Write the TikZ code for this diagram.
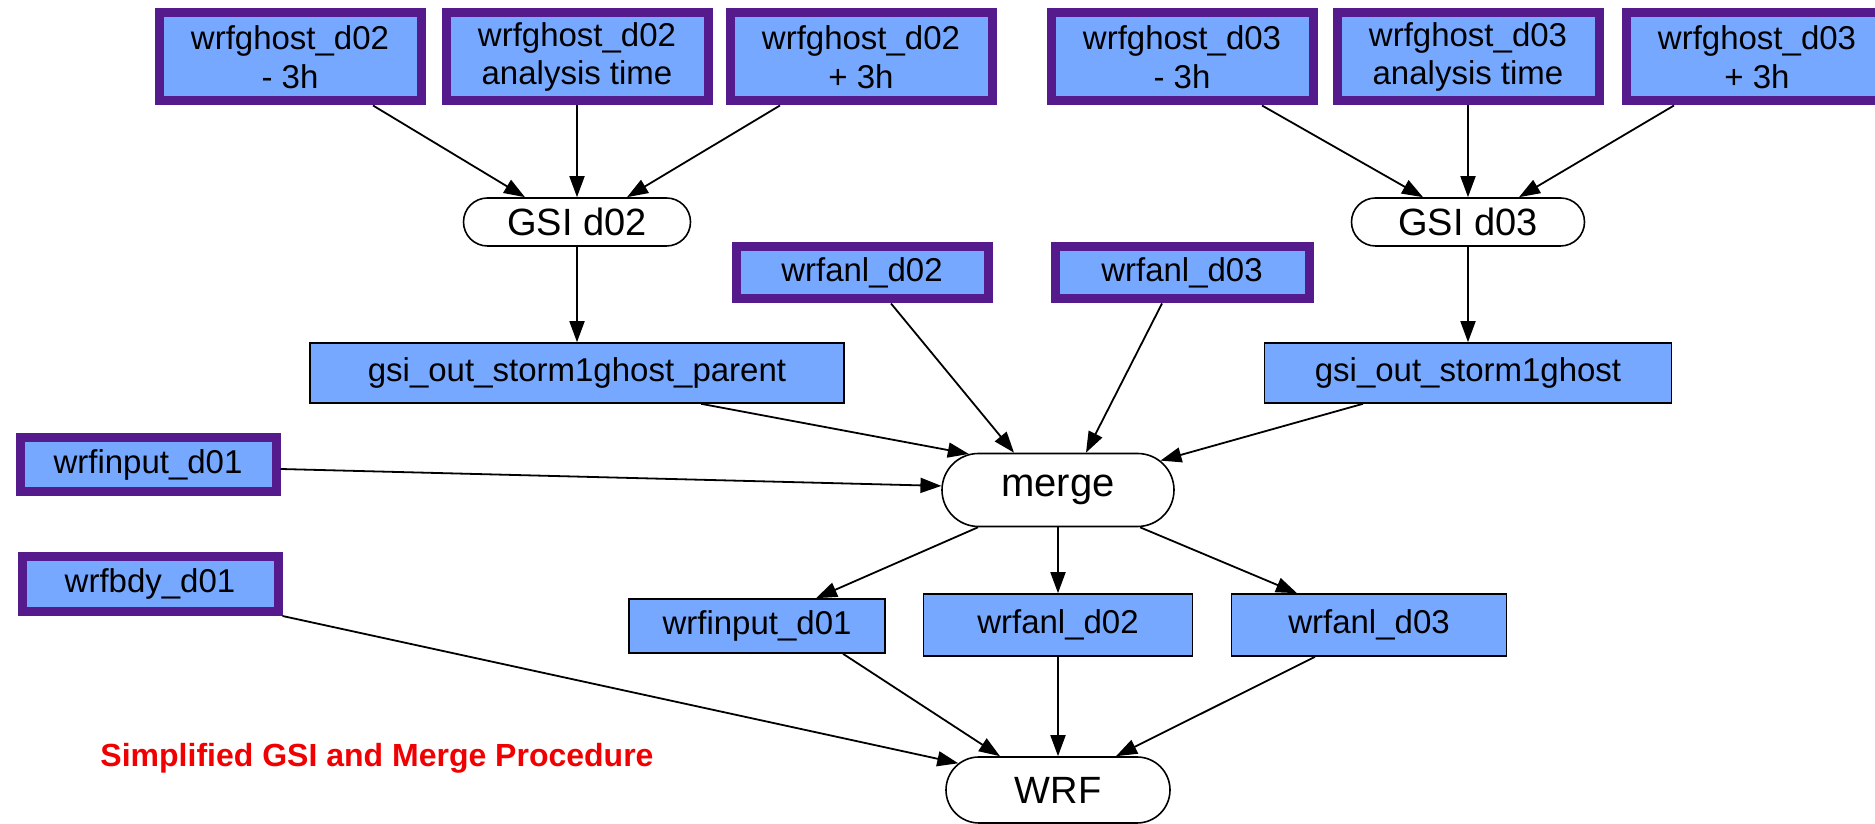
\documentclass[tikz,border=0pt]{standalone}
\usepackage{fontspec}
\setmainfont{Liberation Sans}
\usetikzlibrary{shapes.misc,arrows.meta}
\definecolor{boxfill}{RGB}{118,168,255}
\definecolor{thickb}{RGB}{85,26,139}
\definecolor{capred}{RGB}{240,0,0}
\begin{document}
\begin{tikzpicture}[x=1pt,y=1pt,
  every node/.style={font=\fontsize{33}{38.5}\selectfont, inner sep=0pt, align=center, text=black},
  thickbox/.style={draw=thickb, line width=9pt, fill=boxfill, rectangle},
  topbox/.style={thickbox, minimum width=262pt, minimum height=88pt},
  thinbox/.style={draw=black, line width=1.6pt, fill=boxfill, rectangle},
  proc/.style={draw=black, line width=1.6pt, fill=white, rounded rectangle, font=\fontsize{38}{44}\selectfont},
  conn/.style={draw=black, line width=1.8pt, -{Triangle[length=21pt,width=15pt]}}]
\useasboundingbox (0,0) rectangle (1875,824);
\clip (0,0) rectangle (1875,824);
% top row
\node[topbox] (A1) at (290,767) {wrfghost\_d02\\- 3h};
\node[topbox] (A2) at (577,767) {wrfghost\_d02\\analysis time};
\node[topbox] (A3) at (861,767) {wrfghost\_d02\\+ 3h};
\node[topbox] (B1) at (1182,767) {wrfghost\_d03\\- 3h};
\node[topbox] (B2) at (1468,767) {wrfghost\_d03\\analysis time};
\node[topbox] (B3) at (1757,767) {wrfghost\_d03\\+ 3h};
% GSI
\node[proc, minimum width=227pt, minimum height=48pt] (g02) at (577,602) {GSI d02};
\node[proc, minimum width=233pt, minimum height=48pt] (g03) at (1468,602) {GSI d03};
% middle
\node[thickbox, minimum width=252pt, minimum height=52pt] (wT2) at (862,551) {wrfanl\_d02};
\node[thickbox, minimum width=254pt, minimum height=52pt] (wT3) at (1182,551) {wrfanl\_d03};
\node[thinbox, minimum width=534pt, minimum height=60pt] (par) at (577,451) {gsi\_out\_storm1ghost\_parent};
\node[thinbox, minimum width=407pt, minimum height=60pt] (gout) at (1468,451) {gsi\_out\_storm1ghost};
\node[thickbox, minimum width=256pt, minimum height=54pt] (winL) at (148,359) {wrfinput\_d01};
\node[proc, minimum width=232pt, minimum height=73pt, font=\fontsize{40}{46}\selectfont] (merge) at (1058,334) {merge};
\node[thickbox, minimum width=256pt, minimum height=55pt] (bdy) at (150,240) {wrfbdy\_d01};
% bottom
\node[thinbox, minimum width=256pt, minimum height=54pt] (winB) at (757,198) {wrfinput\_d01};
\node[thinbox, minimum width=269pt, minimum height=62pt] (wB2) at (1058,199) {wrfanl\_d02};
\node[thinbox, minimum width=275pt, minimum height=62pt] (wB3) at (1369,199) {wrfanl\_d03};
\node[proc, minimum width=224pt, minimum height=66pt] (wrf) at (1058,34) {WRF};
\node[font=\bfseries\fontsize{32}{38}\selectfont, text=capred] (cap) at (377,66) {Simplified GSI and Merge Procedure};
% edges
\draw[conn] ([xshift=83pt]A1.south) -- ([xshift=-52pt]g02.north);
\draw[conn] (A2.south) -- (g02.north);
\draw[conn] ([xshift=-81pt]A3.south) -- ([xshift=50pt]g02.north);
\draw[conn] ([xshift=80pt]B1.south) -- ([xshift=-45pt]g03.north);
\draw[conn] (B2.south) -- (g03.north);
\draw[conn] ([xshift=-83pt]B3.south) -- ([xshift=51pt]g03.north);
\draw[conn] (g02.south) -- (par.north);
\draw[conn] (g03.south) -- (gout.north);
\draw[conn] ([xshift=124pt]par.south) -- (merge.158);
\draw[conn] ([xshift=29pt]wT2.south) -- ([xshift=-44pt]merge.north);
\draw[conn] ([xshift=-20pt]wT3.south) -- ([xshift=28pt]merge.north);
\draw[conn] ([xshift=-105pt]gout.south) -- (merge.16);
\draw[conn] ([yshift=-4pt]winL.east) -- (merge.178);
\draw[conn] ([xshift=-80pt]merge.south) -- ([xshift=59pt]winB.north);
\draw[conn] (merge.south) -- (wB2.north);
\draw[conn] ([xshift=82pt]merge.south) -- ([xshift=-72pt]wB3.north);
\draw[conn] ([xshift=86pt]winB.south) -- ([xshift=-58pt]wrf.north);
\draw[conn] (wB2.south) -- (wrf.north);
\draw[conn] ([xshift=-54pt]wB3.south) -- ([xshift=58pt]wrf.north);
\draw[conn] (bdy.south east) -- (wrf.165);
\end{tikzpicture}
\end{document}
